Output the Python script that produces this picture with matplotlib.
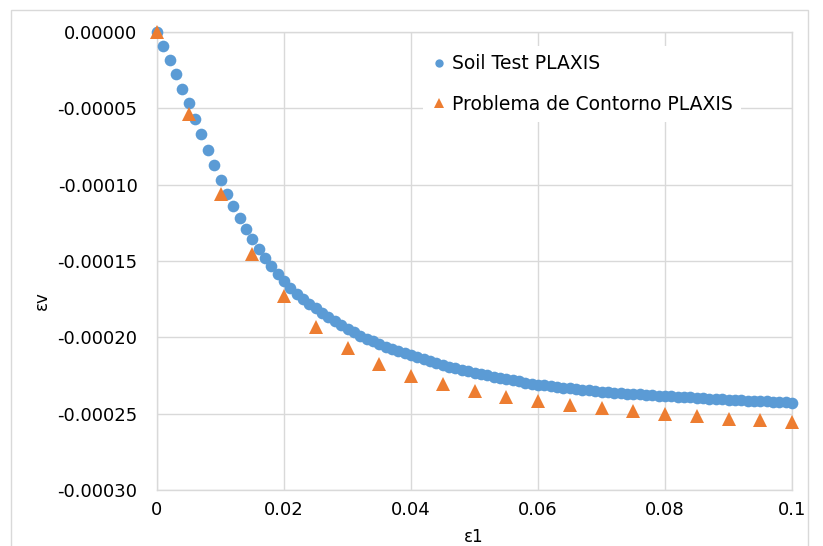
import matplotlib
matplotlib.use("Agg")
import matplotlib.pyplot as plt
from matplotlib.patches import Rectangle
from matplotlib.lines import Line2D

plt.rcParams['font.family'] = ['DejaVu Sans']

# Soil Test PLAXIS: strain increments of 0.001 from 0 to 0.1
soil_eps1 = [i / 1000 for i in range(101)]
soil_epsv_e5 = [
    0.00, -0.92, -1.84, -2.77, -3.71, -4.68, -5.68, -6.70, -7.72, -8.74,
    -9.72, -10.58, -11.40, -12.18, -12.90, -13.57, -14.20, -14.80, -15.36, -15.86,
    -16.33, -16.75, -17.13, -17.48, -17.80, -18.09, -18.39, -18.67, -18.94, -19.20,
    -19.45, -19.67, -19.88, -20.08, -20.27, -20.45, -20.61, -20.76, -20.90, -21.04,
    -21.17, -21.31, -21.45, -21.58, -21.70, -21.81, -21.92, -22.03, -22.13, -22.22,
    -22.31, -22.40, -22.49, -22.57, -22.65, -22.73, -22.81, -22.88, -22.96, -23.03,
    -23.10, -23.15, -23.20, -23.25, -23.29, -23.34, -23.38, -23.42, -23.47, -23.51,
    -23.55, -23.58, -23.62, -23.65, -23.68, -23.71, -23.74, -23.77, -23.80, -23.82,
    -23.85, -23.87, -23.90, -23.92, -23.94, -23.97, -23.99, -24.01, -24.04, -24.06,
    -24.08, -24.10, -24.12, -24.14, -24.16, -24.18, -24.20, -24.22, -24.24, -24.26,
    -24.28,
]

# Problema de Contorno PLAXIS: strain increments of 0.005
bvp_eps1 = [i * 0.005 for i in range(21)]
bvp_epsv_e5 = [
    0.00, -5.37, -10.60, -14.54, -17.32, -19.30, -20.72, -21.72, -22.50, -23.06,
    -23.50, -23.89, -24.15, -24.45, -24.65, -24.85, -25.04, -25.17, -25.33, -25.42,
    -25.53,
]

soil_epsv = [v * 1e-5 for v in soil_epsv_e5]
bvp_epsv = [v * 1e-5 for v in bvp_epsv_e5]

x_ticks = [0, 0.02, 0.04, 0.06, 0.08, 0.1]
x_tick_labels = ['0', '0.02', '0.04', '0.06', '0.08', '0.1']
y_ticks = [0, -0.00005, -0.0001, -0.00015, -0.0002, -0.00025, -0.0003]
y_tick_labels = ['0.00000', '-0.00005', '-0.00010', '-0.00015',
                 '-0.00020', '-0.00025', '-0.00030']

series_names = ['Soil Test PLAXIS', 'Problema de Contorno PLAXIS']
blue = '#5B9BD5'
orange = '#ED7D31'
grid_c = '#D9D9D9'

W, H = 823, 546
fig = plt.figure(figsize=(W / 100, H / 100), dpi=100)
ax = fig.add_axes([157 / W, 1 - 490 / H, (792 - 157) / W, (490 - 32) / H])

ax.plot(soil_eps1, soil_epsv, linestyle='none', marker='o', markersize=8.4,
        color=blue, markeredgewidth=0, zorder=3, clip_on=False)
ax.plot(bvp_eps1, bvp_epsv, linestyle='none', marker='^', markersize=10,
        color=orange, markeredgewidth=0, zorder=4, clip_on=False)

ax.set_xlim(0, 0.1)
ax.set_ylim(-0.0003, 0)
ax.set_xticks(x_ticks)
ax.set_xticklabels(x_tick_labels)
ax.set_yticks(y_ticks)
ax.set_yticklabels(y_tick_labels)
ax.tick_params(axis='both', length=0, labelsize=13, colors='black')
ax.tick_params(axis='y', pad=14)
ax.tick_params(axis='x', pad=8)
ax.grid(True, color=grid_c, linewidth=1.0, zorder=0)
ax.set_axisbelow(True)
for s in ax.spines.values():
    s.set_color(grid_c)
    s.set_linewidth(1.0)

fig.text(474 / W, 1 - 537 / H, 'ε1', ha='center', va='center', fontsize=12)
fig.text(42 / W, 1 - 301 / H, 'εv', ha='center', va='center', fontsize=12,
         rotation=90)

handles = [
    Line2D([], [], linestyle='none', marker='o', markersize=6, color=blue,
           markeredgewidth=0),
    Line2D([], [], linestyle='none', marker='^', markersize=7, color=orange,
           markeredgewidth=0),
]
leg = ax.legend(handles, series_names, loc='upper left',
                bbox_to_anchor=(423 / W, 1 - 46 / H),
                bbox_transform=fig.transFigure, fontsize=13.5, frameon=True,
                fancybox=False, edgecolor='none', facecolor='white',
                framealpha=1, handlelength=0.8, handletextpad=0.3,
                labelspacing=1.15, borderpad=0.45, borderaxespad=0)
leg.set_zorder(5)

fig.add_artist(Rectangle((11 / W, -0.05), (808 - 11) / W, 1.05 - 10 / H,
                         transform=fig.transFigure, fill=False,
                         edgecolor=grid_c, linewidth=1.0))

fig.savefig('out.png', dpi=100)
